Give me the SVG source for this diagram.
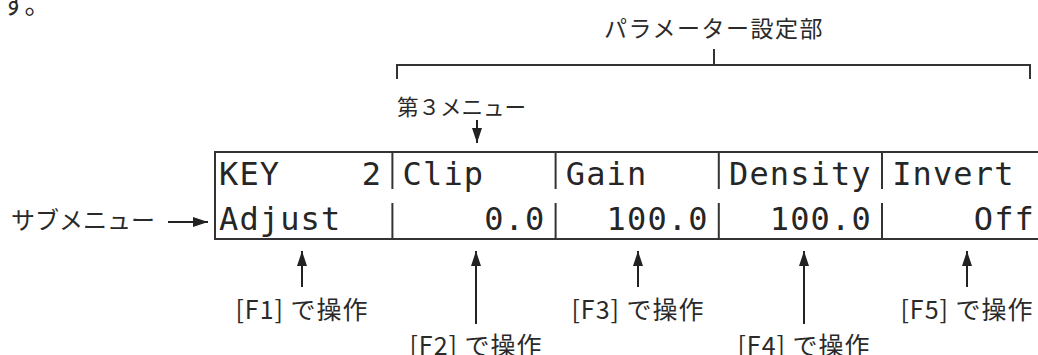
<svg xmlns="http://www.w3.org/2000/svg" width="1038" height="355" viewBox="0 0 1038 355">
<style>
.jp{font-family:"Noto Sans CJK JP","Noto Sans",sans-serif;font-size:23px;fill:#2a2a2a}
.fl{font-size:25px;letter-spacing:1px}
.lcd{font-family:"DejaVu Sans Mono","Liberation Mono",monospace;font-size:32px;fill:#262626;letter-spacing:1.13px}
.ln{stroke:#333;stroke-width:2;fill:none}
.bar{stroke:#333;stroke-width:2}
.arr{stroke:#222;stroke-width:2;fill:none;marker-end:url(#ah)}
</style>
<defs>
<marker id="ah" markerUnits="userSpaceOnUse" markerWidth="16" markerHeight="12" viewBox="0 0 16 12" refX="15" refY="6" orient="auto">
<path d="M0,1 L15,6 L0,11 Z" fill="#222"/>
</marker>
</defs>
<rect width="1038" height="355" fill="#fff"/>
<text class="jp" x="1" y="14" style="font-size:26px">す。</text>
<g id="param-label">
<text class="jp" x="714" y="37" text-anchor="middle" letter-spacing="1.5">パラメーター設定部</text>
</g>
<g id="menu3-label">
<text class="jp" x="397" y="115" style="font-size:21.5px">第３メニュー</text>
</g>
<g id="submenu-label">
<text class="jp" x="11" y="229" style="font-size:24px">サブメニュー</text>
</g>
<g id="display">
<line class="ln" x1="215" y1="152" x2="1038" y2="152"/>
<line class="ln" x1="215" y1="239" x2="1038" y2="239"/>
<line class="ln" x1="215" y1="151" x2="215" y2="240"/>
<line class="bar" x1="392.4" y1="153" x2="392.4" y2="189"/>
<line class="bar" x1="555.6" y1="153" x2="555.6" y2="189"/>
<line class="bar" x1="718.8" y1="153" x2="718.8" y2="189"/>
<line class="bar" x1="882" y1="153" x2="882" y2="189"/>
<line class="bar" x1="392.4" y1="203" x2="392.4" y2="239"/>
<line class="bar" x1="555.6" y1="203" x2="555.6" y2="239"/>
<line class="bar" x1="718.8" y1="203" x2="718.8" y2="239"/>
<line class="bar" x1="882" y1="203" x2="882" y2="239"/>
<text class="lcd" x="219" y="185">KEY</text>
<text class="lcd" x="361.8" y="185">2</text>
<text class="lcd" x="402.6" y="185">Clip</text>
<text class="lcd" x="565.8" y="185">Gain</text>
<text class="lcd" x="729" y="185">Density</text>
<text class="lcd" x="892.2" y="185">Invert</text>
<text class="lcd" x="219" y="230">Adjust</text>
<text class="lcd" x="484.2" y="230">0.0</text>
<text class="lcd" x="606.6" y="230">100.0</text>
<text class="lcd" x="769.8" y="230">100.0</text>
<text class="lcd" x="973.8" y="230">Off</text>
</g>
<g id="f1-label"><text class="jp fl" x="302" y="319" text-anchor="middle">[F1] で操作</text></g>
<g id="f2-label"><text class="jp fl" x="476" y="355" text-anchor="middle">[F2] で操作</text></g>
<g id="f3-label"><text class="jp fl" x="638" y="319" text-anchor="middle">[F3] で操作</text></g>
<g id="f4-label"><text class="jp fl" x="804" y="355" text-anchor="middle">[F4] で操作</text></g>
<g id="f5-label"><text class="jp fl" x="967" y="319" text-anchor="middle">[F5] で操作</text></g>
<g id="connectors">
<path class="ln" d="M397,79 V65 H1030 V79 M714,65 V49"/>
<line class="arr" x1="477" y1="120" x2="477" y2="143"/>
<line class="arr" x1="168" y1="222" x2="208" y2="222"/>
<line class="arr" x1="302" y1="287" x2="302" y2="251"/>
<line class="arr" x1="476" y1="324" x2="476" y2="251"/>
<line class="arr" x1="638" y1="287" x2="638" y2="251"/>
<line class="arr" x1="804" y1="324" x2="804" y2="251"/>
<line class="arr" x1="967" y1="287" x2="967" y2="251"/>
</g>
</svg>
